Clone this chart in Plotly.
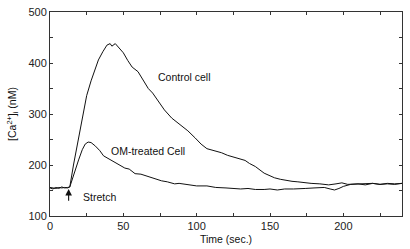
import plotly.graph_objects as go

# Time (s) and [Ca2+]i (nM) for the control cell
control_t = [0, 2, 4, 6, 8, 10, 12, 13.5, 16, 19.5, 22, 25, 28, 31, 33, 36, 38.8, 41, 42.2, 44.5, 47.9,
             50, 53, 56, 60, 63, 67, 70, 74, 78, 83, 88, 94, 99, 103, 107, 112, 117, 121, 125, 129,
             133, 136, 140, 146, 150, 153, 157, 160, 165, 169, 174, 178, 184, 190, 195, 199, 203,
             208, 214, 220, 225, 230, 235, 240]
control_v = [155, 153, 156, 154, 157, 155, 156, 157, 200, 254, 295, 336, 365, 392, 406, 422, 435, 438, 433, 438, 428,
             420, 405, 392, 383, 368, 350, 341, 324, 308, 292, 281, 267, 253, 241, 232, 228, 224, 219, 216, 213,
             209, 203, 197, 184, 178, 175, 172, 170, 168, 167, 165, 164, 163, 161, 163, 165, 162,
             163, 163, 164, 162, 163, 162, 164]

# Time (s) and [Ca2+]i (nM) for the OM-treated cell
om_t = [0, 2, 4, 6, 8, 10, 12, 13.5, 16, 19.5, 22, 24, 26, 28, 31, 34, 36.5, 40, 43, 47, 51, 54, 58,
        62, 65, 70, 76, 80, 85, 88, 95, 100, 107, 113, 120, 125, 130, 135, 140, 146, 150, 155,
        160, 166, 170, 174, 180, 187, 191, 194, 197, 200, 205, 210, 215, 220, 225, 230, 235, 240]
om_v = [156, 155, 154, 156, 155, 156, 155, 157, 180, 210, 230, 241, 245, 244, 237, 228, 218, 212, 206, 200, 194, 192, 183,
        182, 179, 175, 169, 167, 163, 164, 161, 159, 159, 156, 155, 154, 153, 154, 152, 152, 153, 151,
        153, 153, 154, 154, 155, 156, 153, 151, 154, 158, 162, 163, 161, 164, 162, 164, 163, 164]

x_ticks = [0, 50, 100, 150, 200]
y_ticks = [100, 200, 300, 400, 500]

FONT = "Liberation Sans, Arial, sans-serif"

fig = go.Figure()
fig.add_trace(go.Scatter(x=control_t, y=control_v, mode="lines",
                         line=dict(color="#111", width=1), name="Control cell"))
fig.add_trace(go.Scatter(x=om_t, y=om_v, mode="lines",
                         line=dict(color="#111", width=1), name="OM-treated Cell"))

fig.add_annotation(x=92, y=372, text="Control cell", showarrow=False,
                   font=dict(size=10.5, color="#111", family=FONT))
fig.add_annotation(x=67, y=227, text="OM-treated Cell", showarrow=False,
                   font=dict(size=10.5, color="#111", family=FONT))
fig.add_annotation(x=33.7, y=138, text="Stretch", showarrow=False,
                   font=dict(size=10.5, color="#111", family=FONT))
fig.add_annotation(x=12.7, y=153, ax=12.7, ay=127, axref="x", ayref="y", xref="x", yref="y",
                   text="", showarrow=True, arrowhead=2, arrowsize=1.2, arrowwidth=1.1,
                   arrowcolor="#111")

axis_common = dict(showgrid=False, zeroline=False, showline=True, linecolor="#333",
                   linewidth=1, mirror="ticks", ticks="inside", ticklen=3, tickcolor="#333",
                   ticklabeloverflow="allow",
                   tickfont=dict(size=11, color="#222", family=FONT))

fig.update_xaxes(range=[0, 240], tickvals=x_ticks, ticktext=[str(v) for v in x_ticks],
                 minor=dict(dtick=25, tick0=0, ticks="inside", ticklen=3, tickcolor="#333"),
                 title=dict(text="Time (sec.)", font=dict(size=10.5, color="#111", family=FONT), standoff=4),
                 **axis_common)
fig.update_yaxes(range=[100, 500], tickvals=y_ticks, ticktext=[str(v) for v in y_ticks],
                 minor=dict(dtick=50, tick0=0, ticks="inside", ticklen=3, tickcolor="#333"),
                 title=dict(text="[Ca<sup>2+</sup>]<sub>i</sub> (nM)",
                            font=dict(size=10.5, color="#111", family=FONT), standoff=9),
                 **axis_common)

fig.update_layout(width=410, height=249, margin=dict(l=49.5, r=8, t=5.5, b=32.5),
                  paper_bgcolor="white", plot_bgcolor="white", showlegend=False,
                  font=dict(family=FONT))

fig.write_html("out.html", config={"displayModeBar": False},
               post_script="document.body.style.margin='0';document.body.style.padding='0';")
